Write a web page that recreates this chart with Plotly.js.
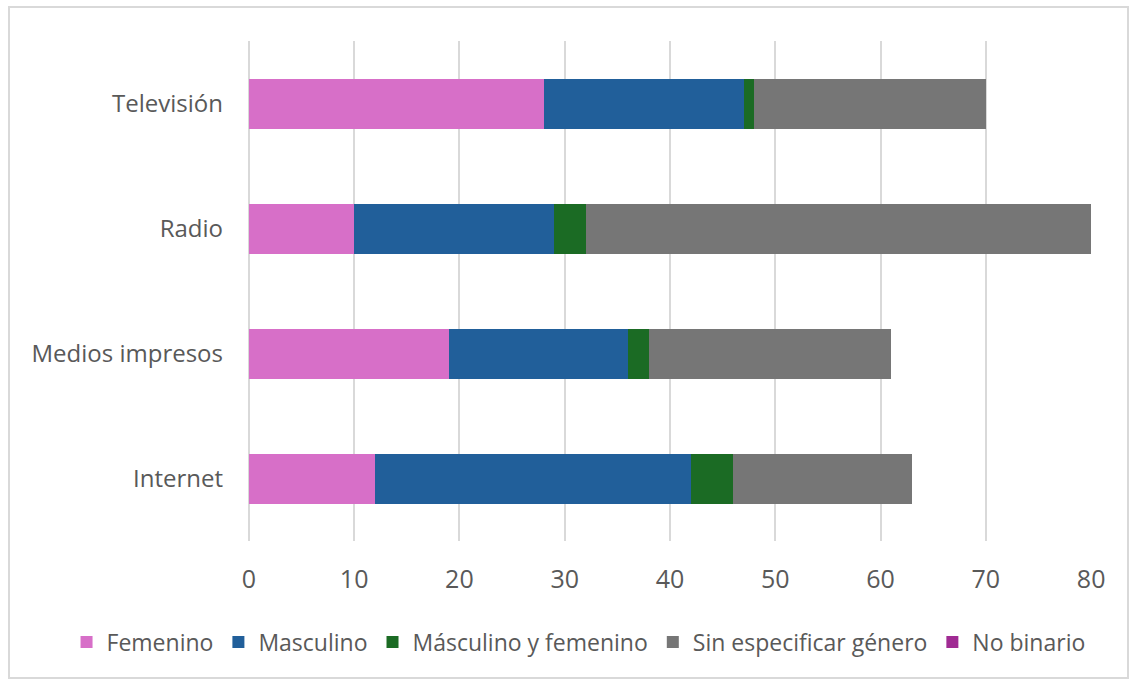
<!DOCTYPE html>
<html>
<head>
<meta charset="utf-8">
<script src="https://cdn.plot.ly/plotly-3.0.1.min.js"></script>
<style>
  html, body { margin: 0; padding: 0; background: #fff; }
  #wrap { position: relative; width: 1134px; height: 684px; }
  #chart { width: 1134px; height: 684px; }
  #frame { position: absolute; left: 8px; top: 6px; width: 1117px; height: 669px;
           border: 2px solid #d9d9d9; pointer-events: none; }
</style>
</head>
<body>
<div id="wrap">
  <div id="chart"></div>
  <div id="frame"></div>
</div>
<script>
const categories = ["Televisión", "Radio", "Medios impresos", "Internet"];
const seriesNames = ["Femenino", "Masculino", "Másculino y femenino", "Sin especificar género", "No binario"];
const femenino = [28, 10, 19, 12];
const masculino = [19, 19, 17, 30];
const masculinoYFemenino = [1, 3, 2, 4];
const sinEspecificar = [22, 48, 23, 17];
const noBinario = [0, 0, 0, 0];
const xTicks = [0, 10, 20, 30, 40, 50, 60, 70, 80];

const seriesValues = [femenino, masculino, masculinoYFemenino, sinEspecificar, noBinario];
const colors = ["#D76FC8", "#215F9A", "#1B6B24", "#767676", "#A02B93"];

const FONT = "Open Sans, Liberation Sans, sans-serif";
const TXT = "#595959";

const traces = seriesNames.map((name, i) => ({
  type: "bar",
  orientation: "h",
  name: name,
  x: seriesValues[i],
  y: categories,
  marker: { color: colors[i], line: { width: 0 } },
  hoverinfo: "x+name"
}));

const layout = {
  width: 1134,
  height: 684,
  barmode: "stack",
  bargap: 0.6,
  paper_bgcolor: "#ffffff",
  plot_bgcolor: "#ffffff",
  margin: { l: 248, r: 42, t: 41, b: 143 },
  font: { family: FONT, color: TXT },
  xaxis: {
    range: [-0.08, 80.08],
    tickvals: xTicks,
    ticktext: xTicks.map(String),
    showgrid: true,
    gridcolor: "#d9d9d9",
    gridwidth: 2,
    zeroline: true,
    zerolinecolor: "#d9d9d9",
    zerolinewidth: 2,
    showline: false,
    ticks: "",
    ticklabelstandoff: 21,
    tickfont: { family: FONT, size: 25, color: TXT },
    fixedrange: true
  },
  yaxis: {
    type: "category",
    categoryorder: "array",
    categoryarray: categories,
    autorange: "reversed",
    showgrid: false,
    zeroline: false,
    showline: false,
    ticks: "",
    ticklabelstandoff: 24,
    tickfont: { family: FONT, size: 24, color: TXT },
    fixedrange: true
  },
  legend: {
    orientation: "h",
    xref: "paper",
    yref: "paper",
    x: -0.215,
    xanchor: "left",
    y: -0.202,
    yanchor: "middle",
    font: { family: FONT, size: 23, color: TXT },
    traceorder: "normal",
    itemwidth: 30
  },
  showlegend: true
};

Plotly.newPlot("chart", traces, layout, { displayModeBar: false, staticPlot: false });
</script>
</body>
</html>
